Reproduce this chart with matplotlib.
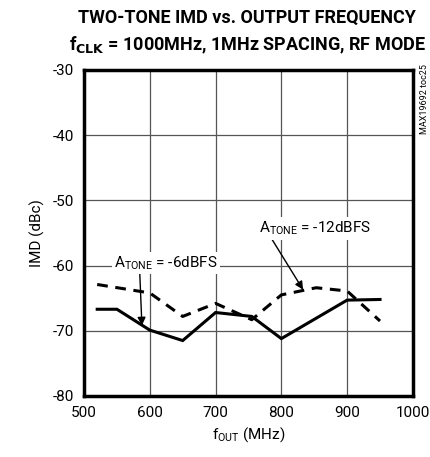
import matplotlib
matplotlib.use("Agg")
import matplotlib.pyplot as plt

plt.rcParams['font.family'] = ['Roboto', 'DejaVu Sans']
plt.rcParams['axes.unicode_minus'] = False
plt.rcParams['mathtext.fontset'] = 'custom'
plt.rcParams['mathtext.rm'] = 'Roboto'

# data
freq = [520, 550, 600, 650, 700, 755, 800, 900, 950]
imd_6dbfs = [-66.7, -66.7, -69.9, -71.5, -67.2, -67.8, -71.2, -65.3, -65.2]
freq_12 = [520, 600, 650, 700, 755, 800, 853, 900, 950]
imd_12dbfs = [-62.9, -64.2, -67.8, -65.8, -68.3, -64.5, -63.4, -63.9, -68.5]

xticks = [500, 600, 700, 800, 900, 1000]
yticks = [-30, -40, -50, -60, -70, -80]

fig = plt.figure(figsize=(4.31, 4.57), dpi=100)
ax = fig.add_axes([0.195, 0.1335, 0.763, 0.7135])

ax.plot(freq, imd_6dbfs, color='black', lw=2.2, solid_joinstyle='miter')
ax.plot(freq_12, imd_12dbfs, color='black', lw=2.2, ls=(0, (3.5, 2.5)))

ax.set_xlim(500, 1000)
ax.set_ylim(-80, -30)
ax.set_xticks(xticks)
ax.set_yticks(yticks)
ax.grid(True, color='#555555', lw=0.9)
ax.tick_params(length=0, labelsize=11, pad=7)
for s in ax.spines.values():
    s.set_linewidth(2.5)

ax.set_xlabel('f$_{\\mathregular{OUT}}$ (MHz)', fontsize=11, labelpad=4)
ax.set_ylabel('IMD (dBc)', fontsize=11, labelpad=6)

ax.annotate('A$_{\\mathregular{TONE}}$ = -6dBFS', xy=(588, -69.2), xytext=(624, -59.6),
            fontsize=11, ha='center', va='center',
            bbox=dict(boxstyle='square,pad=0.15', fc='white', ec='none'),
            arrowprops=dict(arrowstyle='-|>', color='black', lw=1.0, mutation_scale=12,
                        shrinkA=0, shrinkB=0, relpos=(0.25, 0)))
ax.annotate('A$_{\\mathregular{TONE}}$ = -12dBFS', xy=(833, -63.7), xytext=(852, -54.3),
            fontsize=11, ha='center', va='center',
            bbox=dict(boxstyle='square,pad=0.15', fc='white', ec='none'),
            arrowprops=dict(arrowstyle='-|>', color='black', lw=1.0, mutation_scale=12,
                        shrinkA=0, shrinkB=0, relpos=(0.1, 0)))

fig.text(0.573, 0.96, 'TWO-TONE IMD vs. OUTPUT FREQUENCY', fontsize=13, fontweight='bold',
         ha='center', va='center')
fig.text(0.573, 0.9, 'f$_{\\mathregular{\\bf CLK}}$ = 1000MHz, 1MHz SPACING, RF MODE', fontsize=13,
         fontweight='bold', ha='center', va='center')
fig.text(0.984, 0.783, 'MAX19692 toc25', fontsize=6.5, rotation=90, ha='center', va='center')

fig.savefig('out.png', dpi=100)
